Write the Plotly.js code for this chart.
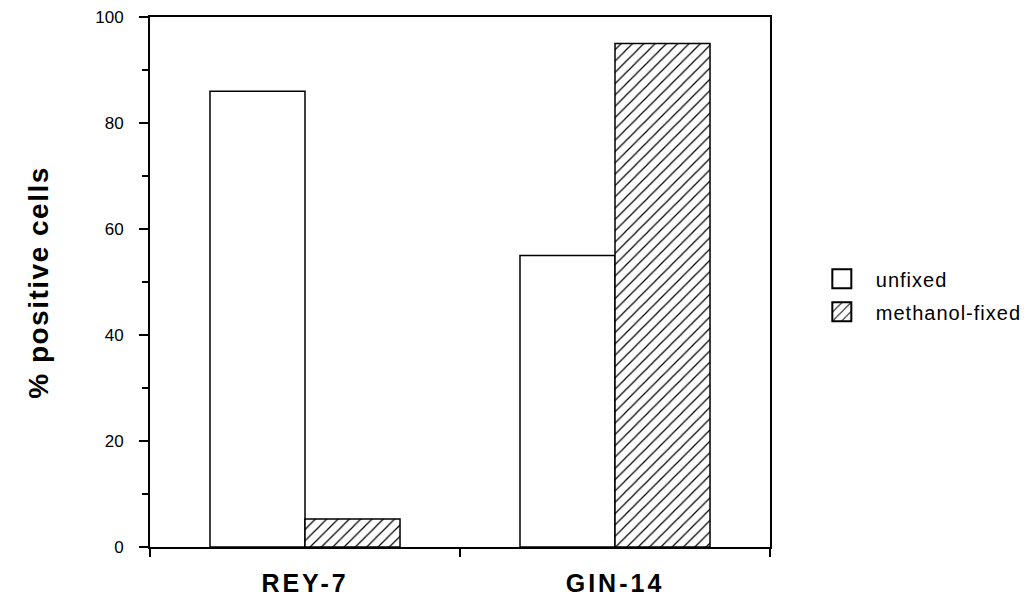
<!DOCTYPE html>
<html>
<head>
<meta charset="utf-8">
<script src="https://cdn.plot.ly/plotly-3.0.1.min.js"></script>
<style>
html,body{margin:0;padding:0;background:#fff;}
#chart{width:1031px;height:603px;}
.xtick text{letter-spacing:3px;}
.legendtext{letter-spacing:1px;}
.annotation-text{letter-spacing:1.5px;}
</style>
</head>
<body>
<div id="chart"></div>
<script>
const categories = ["REY-7", "GIN-14"];
const unfixed = [86, 55];
const methanolFixed = [5.3, 95];
const seriesNames = ["unfixed", "methanol-fixed"];
const yTitle = "% positive cells";

const FONT = "Liberation Sans, Arial, Helvetica, sans-serif";

const traces = [
  {
    type: "bar", name: seriesNames[0], x: categories, y: unfixed, legendgroup: "a",
    marker: {color: "#ffffff", line: {color: "#000", width: 1.5}}
  },
  {
    type: "bar", name: seriesNames[1], x: categories, y: methanolFixed, legendgroup: "b",
    marker: {color: "#ffffff", line: {color: "#000", width: 1.5},
      pattern: {shape: "/", fgcolor: "#000", bgcolor: "#fff", size: 8, solidity: 0.15}}
  }
];

const layout = {
  width: 1031, height: 603,
  margin: {l: 150, r: 261, t: 17, b: 56, autoexpand: false},
  paper_bgcolor: "#fff", plot_bgcolor: "#fff",
  barmode: "group", bargap: 0.387, bargroupgap: 0,
  showlegend: true,
  legend: {x: 1.061, y: 0.475, xanchor: "left", yanchor: "middle", itemwidth: 58,
    font: {family: FONT, size: 20, color: "#000"}, traceorder: "grouped", tracegroupgap: 4,
    bgcolor: "rgba(0,0,0,0)"},
  xaxis: {
    type: "category", range: [-0.5, 1.5],
    showline: true, linecolor: "#000", linewidth: 2, mirror: true,
    ticks: "outside", tickson: "boundaries", ticklen: 8, tickwidth: 2, tickcolor: "#000",
    showgrid: false, zeroline: false,
    tickfont: {family: FONT, size: 25, color: "#000", weight: "bold"},
    ticklabelstandoff: 13
  },
  yaxis: {
    range: [0, 100], dtick: 20, tick0: 0,
    showline: true, linecolor: "#000", linewidth: 2, mirror: true,
    ticks: "outside", ticklen: 9, tickwidth: 2, tickcolor: "#000",
    minor: {dtick: 10, ticks: "outside", ticklen: 6, tickwidth: 2, tickcolor: "#000"},
    showgrid: false, zeroline: false,
    tickfont: {family: FONT, size: 17, color: "#000"},
    ticklabelstandoff: 12
  },
  annotations: [{
    text: "<b>" + yTitle + "</b>", xref: "paper", yref: "paper",
    x: -0.181, y: 0.5, xanchor: "center", yanchor: "middle", textangle: -90,
    showarrow: false, font: {family: FONT, size: 28, color: "#000"}
  }]
};

Plotly.newPlot("chart", traces, layout, {staticPlot: true, displayModeBar: false}).then(function () {
  // enlarge legend swatches to match the reference's bigger boxes
  document.querySelectorAll(".legendpoints path").forEach(function (p) {
    p.setAttribute("d", "M9.5,9.5H-9.5V-9.5H9.5Z");
    p.style.strokeWidth = "2px";
  });
});
</script>
</body>
</html>
